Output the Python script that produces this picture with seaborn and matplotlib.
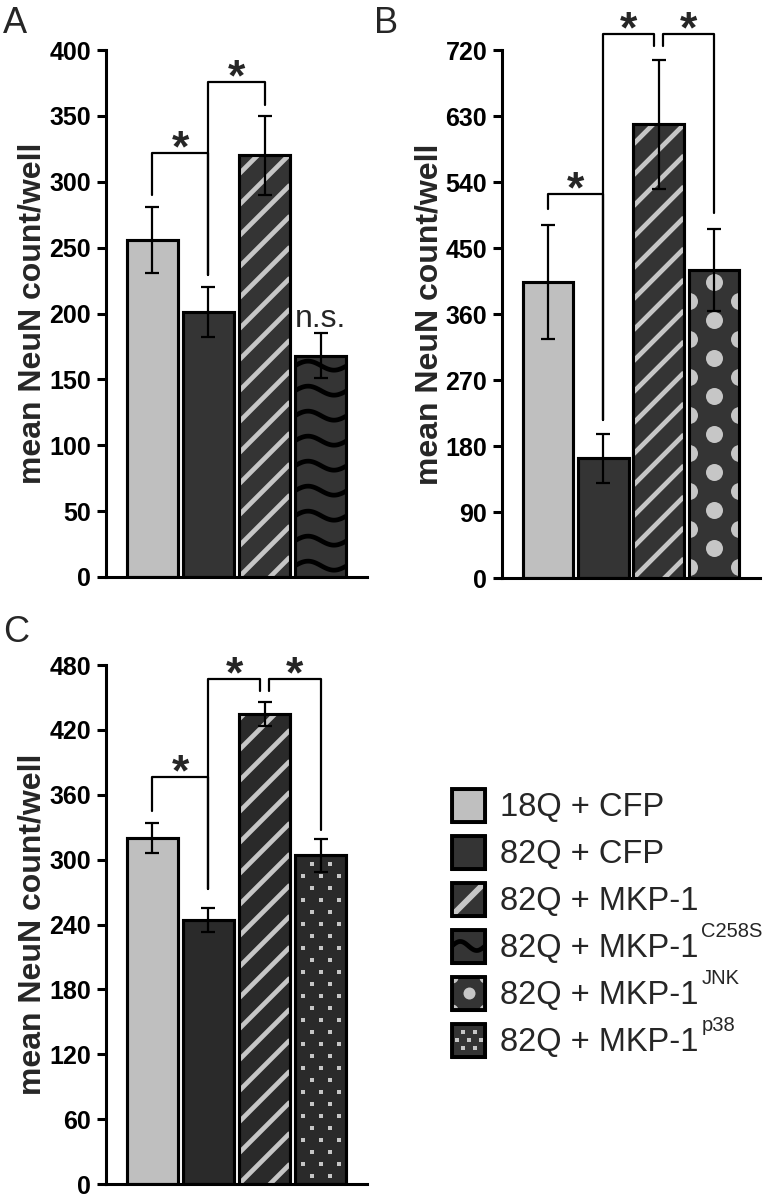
import numpy as np
import pandas as pd
import matplotlib
matplotlib.use('Agg')
import matplotlib.pyplot as plt
from matplotlib.patches import Rectangle
import seaborn as sns

# figure size in pixels (dpi 100)
W, H = 767, 1199

# Panel A
COND_A = ['18Q + CFP', '82Q + CFP', '82Q + MKP-1', '82Q + MKP-1 C258S']
MEAN_A = [256, 201, 320, 168]
SEM_A = [25, 19, 30, 17]
TICKS_A = [0, 50, 100, 150, 200, 250, 300, 350, 400]
# (x_left, x_right, y_top, y_left_end, y_right_end)
BRACKETS_A = [(0, 1, 322, 290, 229), (1, 2, 376, 229, 358)]
NS_A = (3, 190)

# Panel B
COND_B = ['18Q + CFP', '82Q + CFP', '82Q + MKP-1', '82Q + MKP-1 JNK']
MEAN_B = [404, 163, 619, 420]
SEM_B = [78, 33, 88, 56]
TICKS_B = [0, 90, 180, 270, 360, 450, 540, 630, 720]
BRACKETS_B = [(0, 1, 524, 503, 216), (1, 1.92, 742, 216, 725), (2.08, 3, 742, 725, 498)]

# Panel C
COND_C = ['18Q + CFP', '82Q + CFP', '82Q + MKP-1', '82Q + MKP-1 p38']
MEAN_C = [320, 244, 435, 304]
SEM_C = [14, 11, 11, 15]
TICKS_C = [0, 60, 120, 180, 240, 300, 360, 420, 480]
BRACKETS_C = [(0, 1, 376, 345, 273), (1, 1.92, 467, 273, 456), (2.08, 3, 467, 456, 327)]

# Legend
LEGEND_MAIN = ['18Q + CFP', '82Q + CFP', '82Q + MKP-1', '82Q + MKP-1', '82Q + MKP-1', '82Q + MKP-1']
LEGEND_SUP = ['', '', '', 'C258S', 'JNK', 'p38']

# styles
LIGHT = '#bfbfbf'
DARK = '#343434'
DARK_C = '#2a2a2a'
STRIPE = '#c6c6c6'
STYLE = {
    '18Q + CFP': 'light',
    '82Q + CFP': 'solid',
    '82Q + MKP-1': 'stripe',
    '82Q + MKP-1 C258S': 'wave',
    '82Q + MKP-1 JNK': 'bigdot',
    '82Q + MKP-1 p38': 'smalldot',
}
LW = 2.2


def to_data(ax, xs, ys):
    pts = ax.transData.inverted().transform(np.column_stack([xs, ys]))
    return pts[:, 0], pts[:, 1]


def add_pattern(ax, patch, kind, legend=False):
    # fill pattern drawn in pixel units, clipped to the bar / swatch
    bb = patch.get_window_extent()
    x0, y0, x1, y1 = bb.x0, bb.y0, bb.x1, bb.y1
    w, h = x1 - x0, y1 - y0
    xc, yc = (x0 + x1) / 2, (y0 + y1) / 2
    arts = []
    if kind == 'stripe':
        step = 500 if legend else 31
        for c in np.arange(-(w // step + 1) * step, h + step, step):
            xs, ys = to_data(ax, [x0, x1], [y0 + c, y0 + c + w])
            arts += ax.plot(xs, ys, color=STRIPE, lw=4.2 if legend else 3.4,
                            solid_capstyle='butt', zorder=2.5)
    elif kind == 'wave':
        xx = np.linspace(x0, x1, 80)
        rows = [yc] if legend else np.arange(y1 - 10, y0 - 30, -25)
        for r in rows:
            yy = r + 4.5 * np.sin(2 * np.pi * (xx - x0) / (w if legend else 52.0))
            xs, ys = to_data(ax, xx, yy)
            arts += ax.plot(xs, ys, color='black', lw=3.4, zorder=2.5)
    elif kind == 'bigdot':
        dy = h / 2 if legend else 19
        size = 12 if legend else 17
        anchor = y1 if legend else y1 - 12
        px, py = [], []
        k = 0
        while anchor - k * dy > y0 - size:
            yk = anchor - k * dy
            if (k % 2 == 0) == (not legend):
                px.append(xc); py.append(yk)
            else:
                px += [x0, x1]; py += [yk, yk]
            k += 1
        xs, ys = to_data(ax, px, py)
        arts.append(ax.scatter(xs, ys, s=(size * 0.72) ** 2, color=STRIPE,
                               linewidths=0, zorder=2.5))
    elif kind == 'smalldot':
        pitch = 12 if legend else 18
        dy = 8 if legend else 12
        px, py = [], []
        for k in range(-60, 61):
            yk = yc + k * dy
            if yk < y0 + 2 or yk > y1 - 2:
                continue
            for j in range(-6, 7):
                xk = xc + (j + 0.5 * (k % 2)) * pitch
                if x0 + 2 < xk < x1 - 2:
                    px.append(xk); py.append(yk)
        xs, ys = to_data(ax, px, py)
        arts.append(ax.scatter(xs, ys, s=(3.2 * 0.72) ** 2, marker='s', color=STRIPE,
                               linewidths=0, zorder=2.5))
    for a in arts:
        a.set_clip_path(patch)


def draw_panel(ax, conds, means, sems, ticks, brackets, dark):
    df = pd.DataFrame({'condition': conds, 'mean': means})
    colors = [LIGHT if STYLE[c] == 'light' else dark for c in conds]
    sns.barplot(data=df, x='condition', y='mean', hue='condition', order=conds,
                hue_order=conds, palette=colors, width=0.91, saturation=1,
                edgecolor='black', linewidth=LW, errorbar=None, legend=False, ax=ax)
    ax.set_xlim(-0.83, len(conds) - 1 + 0.83)
    ax.set_ylim(0, ticks[-1])
    ax.set_yticks(ticks)

    bars = sorted([p for p in ax.patches if isinstance(p, Rectangle)], key=lambda p: p.get_x())
    for bar, cond in zip(bars, conds):
        add_pattern(ax, bar, STYLE[cond])
        ax.add_patch(Rectangle((bar.get_x(), bar.get_y()), bar.get_width(), bar.get_height(),
                               fill=False, edgecolor='black', lw=LW, zorder=2.6))

    ax.errorbar(range(len(conds)), means, yerr=sems, fmt='none', ecolor='black',
                elinewidth=1.6, capsize=5, capthick=1.6, zorder=4)

    # significance brackets
    for xl, xr, yt, yl, yr in brackets:
        ax.plot([xl, xl, xr, xr], [yl, yt, yt, yr], color='black', lw=1.6,
                clip_on=False, zorder=5)
        ax.annotate('*', xy=((xl + xr) / 2, yt), xytext=(0, -6), textcoords='offset points',
                    ha='center', va='baseline', fontsize=32, fontweight='bold',
                    annotation_clip=False)

    sns.despine(ax=ax)
    for s in ['left', 'bottom']:
        ax.spines[s].set_linewidth(LW)
        ax.spines[s].set_color('black')
    ax.set_xlabel('')
    ax.set_xticks([])
    ax.tick_params(axis='y', direction='out', length=6.2, width=LW, labelsize=18,
                   pad=4.5, colors='black')
    for lbl in ax.get_yticklabels():
        lbl.set_fontweight('bold')
    ax.set_ylabel('mean NeuN count/well', fontsize=23, fontweight='bold', labelpad=1)


def px_axes(fig, left, top, right, bottom):
    return fig.add_axes([left / W, 1 - bottom / H, (right - left) / W, (bottom - top) / H])


sns.set_style('ticks')
plt.rcParams['font.family'] = ['Liberation Sans', 'DejaVu Sans']

fig = plt.figure(figsize=(W / 100, H / 100), dpi=100)

ax_a = px_axes(fig, 106, 50, 367, 577)
ax_b = px_axes(fig, 502, 50, 760, 578)
ax_c = px_axes(fig, 106, 665, 367, 1184)

draw_panel(ax_a, COND_A, MEAN_A, SEM_A, TICKS_A, BRACKETS_A, DARK)
ax_a.text(NS_A[0], NS_A[1], 'n.s.', ha='center', va='baseline', fontsize=23)
draw_panel(ax_b, COND_B, MEAN_B, SEM_B, TICKS_B, BRACKETS_B, DARK)
draw_panel(ax_c, COND_C, MEAN_C, SEM_C, TICKS_C, BRACKETS_C, DARK_C)

fig.text(3 / W, 1 - 33 / H, 'A', fontsize=26, va='baseline')
fig.text(374 / W, 1 - 33 / H, 'B', fontsize=26, va='baseline')
fig.text(3 / W, 1 - 642 / H, 'C', fontsize=26, va='baseline')

# legend drawn in a pixel-coordinate overlay
lax = fig.add_axes([0, 0, 1, 1])
lax.set_xlim(0, W)
lax.set_ylim(0, H)
lax.axis('off')
renderer = fig.canvas.get_renderer()
legend_kinds = ['light', 'solid', 'stripe', 'wave', 'bigdot', 'smalldot']
for i, (main, sup, kind) in enumerate(zip(LEGEND_MAIN, LEGEND_SUP, legend_kinds)):
    yc = 805 + i * 47
    color = LIGHT if kind == 'light' else DARK
    sw = Rectangle((452, H - yc - 16.5), 33, 33, facecolor=color, edgecolor='black', lw=LW)
    lax.add_patch(sw)
    add_pattern(lax, sw, kind, legend=True)
    lax.add_patch(Rectangle((452, H - yc - 16.5), 33, 33, fill=False, edgecolor='black',
                            lw=2.8, zorder=2.6))
    t = lax.text(500, H - yc - 11, main, fontsize=23.5, va='baseline')
    if sup:
        bb = t.get_window_extent(renderer)
        lax.text(bb.x1 + 3, H - yc - 11 + 20, sup, fontsize=14.5, va='baseline')

fig.savefig('out.png', dpi=100)
